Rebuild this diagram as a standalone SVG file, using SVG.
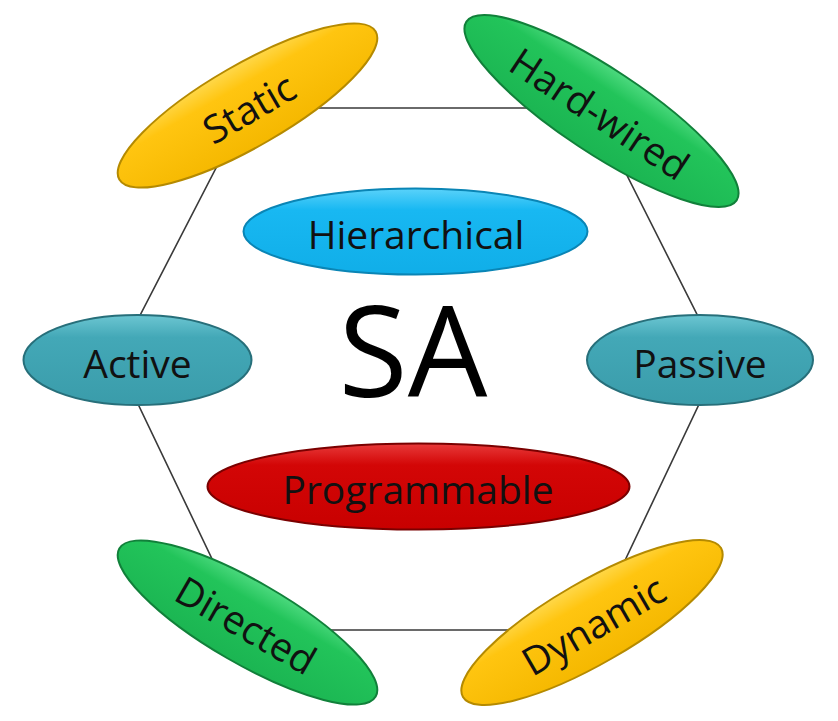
<svg xmlns="http://www.w3.org/2000/svg" width="838" height="721" viewBox="0 0 838 721">
<defs>
  <linearGradient id="gYellow" x1="0" y1="0" x2="0" y2="1">
    <stop offset="0" stop-color="#FFD84A"/><stop offset="0.25" stop-color="#FFC510"/><stop offset="1" stop-color="#F5B800"/>
  </linearGradient>
  <linearGradient id="gGreen" x1="0" y1="0" x2="0" y2="1">
    <stop offset="0" stop-color="#4CD97E"/><stop offset="0.25" stop-color="#22C45A"/><stop offset="1" stop-color="#1BB552"/>
  </linearGradient>
  <linearGradient id="gTeal" x1="0" y1="0" x2="0" y2="1">
    <stop offset="0" stop-color="#6CC6D2"/><stop offset="0.25" stop-color="#43A8B7"/><stop offset="1" stop-color="#3A9CAA"/>
  </linearGradient>
  <linearGradient id="gBlue" x1="0" y1="0" x2="0" y2="1">
    <stop offset="0" stop-color="#5AD2FA"/><stop offset="0.25" stop-color="#18B8F2"/><stop offset="1" stop-color="#10AEE8"/>
  </linearGradient>
  <linearGradient id="gRed" x1="0" y1="0" x2="0" y2="1">
    <stop offset="0" stop-color="#E83A3A"/><stop offset="0.25" stop-color="#D30606"/><stop offset="1" stop-color="#C80000"/>
  </linearGradient>
</defs>
<style>
  .edge { fill: none; stroke: #3a3a3a; stroke-width: 1.6; }
  .lbl { font-family: "Open Sans", "Noto Sans", "Liberation Sans", sans-serif; font-size: 39px; fill: #111; text-anchor: middle; dominant-baseline: central; }
  .yellow { fill: url(#gYellow); stroke: #B58A00; stroke-width: 2; }
  .green { fill: url(#gGreen); stroke: #11803A; stroke-width: 2; }
  .teal { fill: url(#gTeal); stroke: #276F7A; stroke-width: 2; }
  .blue { fill: url(#gBlue); stroke: #0A85B5; stroke-width: 2; }
  .red { fill: url(#gRed); stroke: #7A0000; stroke-width: 2; }
</style>
<rect width="838" height="721" fill="#ffffff"/>
<g id="connectors">
  <polygon class="edge" points="247,108 593,108 720,360 592,630 246,630 117,360"/>
</g>
<g id="static" transform="translate(247.5,105.5) rotate(-30)">
  <ellipse class="yellow" cx="0" cy="0" rx="148" ry="41"/>
  <text class="lbl" x="0" y="2">Static</text>
</g>
<g id="hardwired" transform="translate(601.5,111) rotate(33.5)">
  <ellipse class="green" cx="0" cy="0" rx="162" ry="42"/>
  <text class="lbl" x="0" y="2">Hard-wired</text>
</g>
<g id="active">
  <ellipse class="teal" cx="137.5" cy="360" rx="114" ry="45"/>
  <text class="lbl" x="137.5" y="362">Active</text>
</g>
<g id="passive">
  <ellipse class="teal" cx="700" cy="360" rx="113" ry="45"/>
  <text class="lbl" x="700" y="362">Passive</text>
</g>
<g id="directed" transform="translate(247.5,622.5) rotate(30)">
  <ellipse class="green" cx="0" cy="0" rx="148" ry="41"/>
  <text class="lbl" x="0" y="2">Directed</text>
</g>
<g id="dynamic" transform="translate(592,622.5) rotate(-30)">
  <ellipse class="yellow" cx="0" cy="0" rx="149" ry="41"/>
  <text class="lbl" x="0" y="2">Dynamic</text>
</g>
<g id="hierarchical">
  <ellipse class="blue" cx="415.5" cy="231.5" rx="172" ry="43"/>
  <text class="lbl" x="416" y="233">Hierarchical</text>
</g>
<g id="programmable">
  <ellipse class="red" cx="418.5" cy="486.5" rx="211" ry="43"/>
  <text class="lbl" x="418" y="488">Programmable</text>
</g>
<g id="center">
  <text x="413" y="348" font-family="Open Sans, Noto Sans, Liberation Sans, sans-serif" font-size="126" fill="#000" text-anchor="middle" dominant-baseline="central">SA</text>
</g>
</svg>
